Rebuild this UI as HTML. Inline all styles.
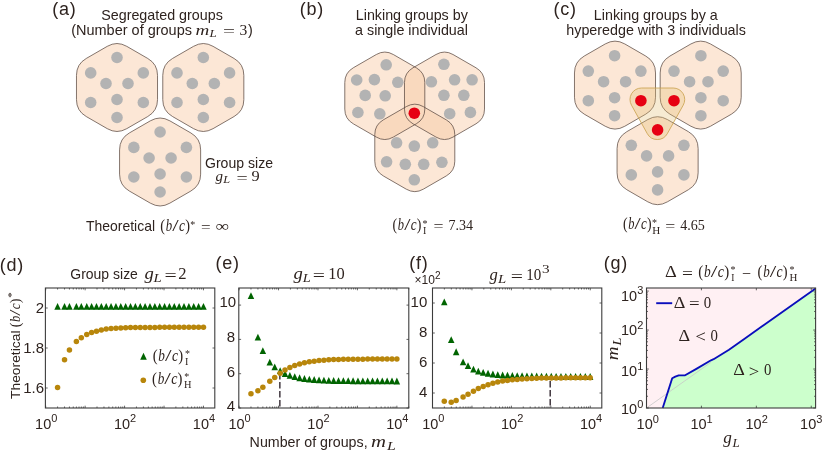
<!DOCTYPE html>
<html><head><meta charset="utf-8"><title>Figure</title>
<style>
html,body{margin:0;padding:0;background:#fff;}
svg{display:block;will-change:transform;transform:translateZ(0);}
text{white-space:pre;}
</style></head>
<body>
<svg width="822" height="462" viewBox="0 0 822 462">
<rect width="822" height="462" fill="#ffffff"/>
<text x="52.3" y="14.6" text-anchor="start" fill="#2e231f" style="font-family:'Liberation Sans',sans-serif;font-size:18px;letter-spacing:0.75px;">(a)</text>
<text x="299.8" y="14.6" text-anchor="start" fill="#2e231f" style="font-family:'Liberation Sans',sans-serif;font-size:18px;letter-spacing:0.75px;">(b)</text>
<text x="553.5" y="14.6" text-anchor="start" fill="#2e231f" style="font-family:'Liberation Sans',sans-serif;font-size:18px;letter-spacing:0.75px;">(c)</text>
<text x="-0.2" y="271" text-anchor="start" fill="#2e231f" style="font-family:'Liberation Sans',sans-serif;font-size:18px;letter-spacing:0.75px;">(d)</text>
<text x="215.5" y="268.9" text-anchor="start" fill="#2e231f" style="font-family:'Liberation Sans',sans-serif;font-size:18px;letter-spacing:0.75px;">(e)</text>
<text x="409.3" y="269.3" text-anchor="start" fill="#2e231f" style="font-family:'Liberation Sans',sans-serif;font-size:18px;letter-spacing:0.75px;">(f)</text>
<text x="603.8" y="269.2" text-anchor="start" fill="#2e231f" style="font-family:'Liberation Sans',sans-serif;font-size:18px;letter-spacing:0.75px;">(g)</text>
<path d="M107.25,46.33 A19.50,19.50 0 0 1 126.75,46.33 L147.78,58.47 A19.50,19.50 0 0 1 157.53,75.36 L157.53,99.64 A19.50,19.50 0 0 1 147.78,116.53 L126.75,128.67 A19.50,19.50 0 0 1 107.25,128.67 L86.22,116.53 A19.50,19.50 0 0 1 76.47,99.64 L76.47,75.36 A19.50,19.50 0 0 1 86.22,58.47 Z" fill="#fce7d6" stroke="#5b4a42" stroke-width="0.75"/>
<circle cx="117.0" cy="57.5" r="5.8" fill="#b3b3b3"/>
<circle cx="90.7" cy="72.9" r="5.8" fill="#b3b3b3"/>
<circle cx="143.3" cy="72.9" r="5.8" fill="#b3b3b3"/>
<circle cx="106.0" cy="83.5" r="5.8" fill="#b3b3b3"/>
<circle cx="128.0" cy="83.5" r="5.8" fill="#b3b3b3"/>
<circle cx="117.0" cy="99.5" r="5.8" fill="#b3b3b3"/>
<circle cx="90.7" cy="102.5" r="5.8" fill="#b3b3b3"/>
<circle cx="143.3" cy="102.5" r="5.8" fill="#b3b3b3"/>
<circle cx="117.0" cy="117.5" r="5.8" fill="#b3b3b3"/>
<path d="M193.55,46.33 A19.50,19.50 0 0 1 213.05,46.33 L234.08,58.47 A19.50,19.50 0 0 1 243.83,75.36 L243.83,99.64 A19.50,19.50 0 0 1 234.08,116.53 L213.05,128.67 A19.50,19.50 0 0 1 193.55,128.67 L172.52,116.53 A19.50,19.50 0 0 1 162.77,99.64 L162.77,75.36 A19.50,19.50 0 0 1 172.52,58.47 Z" fill="#fce7d6" stroke="#5b4a42" stroke-width="0.75"/>
<circle cx="203.3" cy="57.5" r="5.8" fill="#b3b3b3"/>
<circle cx="177.0" cy="72.9" r="5.8" fill="#b3b3b3"/>
<circle cx="229.6" cy="72.9" r="5.8" fill="#b3b3b3"/>
<circle cx="192.3" cy="83.5" r="5.8" fill="#b3b3b3"/>
<circle cx="214.3" cy="83.5" r="5.8" fill="#b3b3b3"/>
<circle cx="203.3" cy="99.5" r="5.8" fill="#b3b3b3"/>
<circle cx="177.0" cy="102.5" r="5.8" fill="#b3b3b3"/>
<circle cx="229.6" cy="102.5" r="5.8" fill="#b3b3b3"/>
<circle cx="203.3" cy="117.5" r="5.8" fill="#b3b3b3"/>
<path d="M150.35,120.83 A19.50,19.50 0 0 1 169.85,120.83 L190.88,132.97 A19.50,19.50 0 0 1 200.63,149.86 L200.63,174.14 A19.50,19.50 0 0 1 190.88,191.03 L169.85,203.17 A19.50,19.50 0 0 1 150.35,203.17 L129.32,191.03 A19.50,19.50 0 0 1 119.57,174.14 L119.57,149.86 A19.50,19.50 0 0 1 129.32,132.97 Z" fill="#fce7d6" stroke="#5b4a42" stroke-width="0.75"/>
<circle cx="160.1" cy="132.0" r="5.8" fill="#b3b3b3"/>
<circle cx="133.8" cy="147.4" r="5.8" fill="#b3b3b3"/>
<circle cx="186.4" cy="147.4" r="5.8" fill="#b3b3b3"/>
<circle cx="149.1" cy="158.0" r="5.8" fill="#b3b3b3"/>
<circle cx="171.1" cy="158.0" r="5.8" fill="#b3b3b3"/>
<circle cx="160.1" cy="174.0" r="5.8" fill="#b3b3b3"/>
<circle cx="133.8" cy="177.0" r="5.8" fill="#b3b3b3"/>
<circle cx="186.4" cy="177.0" r="5.8" fill="#b3b3b3"/>
<circle cx="160.1" cy="192.0" r="5.8" fill="#b3b3b3"/>
<text x="162.0" y="20.4" text-anchor="middle" fill="#2e231f" style="font-family:'Liberation Sans',sans-serif;font-size:14.3px;">Segregated groups</text>
<text x="71.2" y="34.5" text-anchor="start" fill="#2e231f" style="font-family:'Liberation Sans',sans-serif;font-size:14.3px;" textLength="120.8" lengthAdjust="spacingAndGlyphs">(Number of groups</text>
<text x="195.4" y="34.5" text-anchor="start" fill="#2e231f" style="font-family:'Liberation Serif',serif;font-size:15.5px;font-style:italic;" textLength="13.8" lengthAdjust="spacingAndGlyphs">m</text>
<text x="209.5" y="37.3" text-anchor="start" fill="#2e231f" style="font-family:'Liberation Serif',serif;font-size:10.5px;font-style:italic;" textLength="7.2" lengthAdjust="spacingAndGlyphs">L</text>
<text x="222.9" y="36.0" text-anchor="start" fill="#2e231f" style="font-family:'Liberation Serif',serif;font-size:15px;" textLength="12" lengthAdjust="spacingAndGlyphs">=</text>
<text x="239.4" y="34.6" text-anchor="start" fill="#2e231f" style="font-family:'Liberation Serif',serif;font-size:14.5px;" textLength="7.8" lengthAdjust="spacingAndGlyphs">3</text>
<text x="248.0" y="34.5" text-anchor="start" fill="#2e231f" style="font-family:'Liberation Sans',sans-serif;font-size:14.3px;">)</text>
<text x="205" y="167.9" text-anchor="start" fill="#2e231f" style="font-family:'Liberation Sans',sans-serif;font-size:14.3px;" textLength="68" lengthAdjust="spacingAndGlyphs">Group size</text>
<text x="215.6" y="180.6" text-anchor="start" fill="#2e231f" style="font-family:'Liberation Serif',serif;font-size:15px;font-style:italic;" textLength="7.5" lengthAdjust="spacingAndGlyphs">g</text>
<text x="223.3" y="183.4" text-anchor="start" fill="#2e231f" style="font-family:'Liberation Serif',serif;font-size:10.5px;font-style:italic;" textLength="6.8" lengthAdjust="spacingAndGlyphs">L</text>
<text x="236.4" y="182.7" text-anchor="start" fill="#2e231f" style="font-family:'Liberation Serif',serif;font-size:15px;" textLength="11.2" lengthAdjust="spacingAndGlyphs">=</text>
<text x="251.6" y="181.3" text-anchor="start" fill="#2e231f" style="font-family:'Liberation Serif',serif;font-size:15.5px;" textLength="8.2" lengthAdjust="spacingAndGlyphs">9</text>
<text x="86" y="230.7" text-anchor="start" fill="#2e231f" style="font-family:'Liberation Sans',sans-serif;font-size:14.3px;" textLength="69" lengthAdjust="spacingAndGlyphs">Theoretical</text>
<text x="160.3" y="230.7" text-anchor="start" fill="#2e231f" style="font-family:'Liberation Serif',serif;font-size:16px;" textLength="4.7608391608391605" lengthAdjust="spacingAndGlyphs">(</text>
<text x="165.7853146853147" y="230.7" text-anchor="start" fill="#2e231f" style="font-family:'Liberation Serif',serif;font-size:16px;font-style:italic;" textLength="6.416783216783217" lengthAdjust="spacingAndGlyphs">b</text>
<text x="172.3055944055944" y="230.7" text-anchor="start" fill="#2e231f" style="font-family:'Liberation Serif',serif;font-size:16px;" textLength="6.416783216783217" lengthAdjust="spacingAndGlyphs">/</text>
<text x="178.92937062937065" y="230.7" text-anchor="start" fill="#2e231f" style="font-family:'Liberation Serif',serif;font-size:16px;font-style:italic;" textLength="6.002797202797203" lengthAdjust="spacingAndGlyphs">c</text>
<text x="185.13916083916087" y="230.7" text-anchor="start" fill="#2e231f" style="font-family:'Liberation Serif',serif;font-size:16px;" textLength="4.7608391608391605" lengthAdjust="spacingAndGlyphs">)</text>
<text x="190.2" y="227.9" text-anchor="start" fill="#2e231f" style="font-family:'Liberation Serif',serif;font-size:10px;">*</text>
<text x="201" y="232.2" text-anchor="start" fill="#2e231f" style="font-family:'Liberation Serif',serif;font-size:15px;" textLength="9.6" lengthAdjust="spacingAndGlyphs">=</text>
<text x="215.7" y="230.7" text-anchor="start" fill="#2e231f" style="font-family:'Liberation Serif',serif;font-size:15px;" textLength="13.4" lengthAdjust="spacingAndGlyphs">∞</text>
<path d="M376.30,54.51 A17.00,17.00 0 0 1 393.30,54.51 L416.31,67.79 A17.00,17.00 0 0 1 424.81,82.51 L424.81,109.09 A17.00,17.00 0 0 1 416.31,123.81 L393.30,137.09 A17.00,17.00 0 0 1 376.30,137.09 L353.29,123.81 A17.00,17.00 0 0 1 344.79,109.09 L344.79,82.51 A17.00,17.00 0 0 1 353.29,67.79 Z" fill="#fce7d6" stroke="none" stroke-width="0.75"/>
<path d="M436.00,54.51 A17.00,17.00 0 0 1 453.00,54.51 L476.01,67.79 A17.00,17.00 0 0 1 484.51,82.51 L484.51,109.09 A17.00,17.00 0 0 1 476.01,123.81 L453.00,137.09 A17.00,17.00 0 0 1 436.00,137.09 L412.99,123.81 A17.00,17.00 0 0 1 404.49,109.09 L404.49,82.51 A17.00,17.00 0 0 1 412.99,67.79 Z" fill="#fce7d6" stroke="none" stroke-width="0.75"/>
<path d="M406.30,106.61 A17.00,17.00 0 0 1 423.30,106.61 L446.31,119.89 A17.00,17.00 0 0 1 454.81,134.61 L454.81,161.19 A17.00,17.00 0 0 1 446.31,175.91 L423.30,189.19 A17.00,17.00 0 0 1 406.30,189.19 L383.29,175.91 A17.00,17.00 0 0 1 374.79,161.19 L374.79,134.61 A17.00,17.00 0 0 1 383.29,119.89 Z" fill="#fce7d6" stroke="none" stroke-width="0.75"/>
<defs><clipPath id="hb0"><path d="M376.30,54.51 A17.00,17.00 0 0 1 393.30,54.51 L416.31,67.79 A17.00,17.00 0 0 1 424.81,82.51 L424.81,109.09 A17.00,17.00 0 0 1 416.31,123.81 L393.30,137.09 A17.00,17.00 0 0 1 376.30,137.09 L353.29,123.81 A17.00,17.00 0 0 1 344.79,109.09 L344.79,82.51 A17.00,17.00 0 0 1 353.29,67.79 Z"/></clipPath><clipPath id="hb1"><path d="M436.00,54.51 A17.00,17.00 0 0 1 453.00,54.51 L476.01,67.79 A17.00,17.00 0 0 1 484.51,82.51 L484.51,109.09 A17.00,17.00 0 0 1 476.01,123.81 L453.00,137.09 A17.00,17.00 0 0 1 436.00,137.09 L412.99,123.81 A17.00,17.00 0 0 1 404.49,109.09 L404.49,82.51 A17.00,17.00 0 0 1 412.99,67.79 Z"/></clipPath><clipPath id="hb2"><path d="M406.30,106.61 A17.00,17.00 0 0 1 423.30,106.61 L446.31,119.89 A17.00,17.00 0 0 1 454.81,134.61 L454.81,161.19 A17.00,17.00 0 0 1 446.31,175.91 L423.30,189.19 A17.00,17.00 0 0 1 406.30,189.19 L383.29,175.91 A17.00,17.00 0 0 1 374.79,161.19 L374.79,134.61 A17.00,17.00 0 0 1 383.29,119.89 Z"/></clipPath></defs>
<path d="M436.00,54.51 A17.00,17.00 0 0 1 453.00,54.51 L476.01,67.79 A17.00,17.00 0 0 1 484.51,82.51 L484.51,109.09 A17.00,17.00 0 0 1 476.01,123.81 L453.00,137.09 A17.00,17.00 0 0 1 436.00,137.09 L412.99,123.81 A17.00,17.00 0 0 1 404.49,109.09 L404.49,82.51 A17.00,17.00 0 0 1 412.99,67.79 Z" fill="#f9d9be" clip-path="url(#hb0)"/>
<path d="M406.30,106.61 A17.00,17.00 0 0 1 423.30,106.61 L446.31,119.89 A17.00,17.00 0 0 1 454.81,134.61 L454.81,161.19 A17.00,17.00 0 0 1 446.31,175.91 L423.30,189.19 A17.00,17.00 0 0 1 406.30,189.19 L383.29,175.91 A17.00,17.00 0 0 1 374.79,161.19 L374.79,134.61 A17.00,17.00 0 0 1 383.29,119.89 Z" fill="#f9d9be" clip-path="url(#hb0)"/>
<path d="M406.30,106.61 A17.00,17.00 0 0 1 423.30,106.61 L446.31,119.89 A17.00,17.00 0 0 1 454.81,134.61 L454.81,161.19 A17.00,17.00 0 0 1 446.31,175.91 L423.30,189.19 A17.00,17.00 0 0 1 406.30,189.19 L383.29,175.91 A17.00,17.00 0 0 1 374.79,161.19 L374.79,134.61 A17.00,17.00 0 0 1 383.29,119.89 Z" fill="#f9d9be" clip-path="url(#hb1)"/>
<path d="M376.30,54.51 A17.00,17.00 0 0 1 393.30,54.51 L416.31,67.79 A17.00,17.00 0 0 1 424.81,82.51 L424.81,109.09 A17.00,17.00 0 0 1 416.31,123.81 L393.30,137.09 A17.00,17.00 0 0 1 376.30,137.09 L353.29,123.81 A17.00,17.00 0 0 1 344.79,109.09 L344.79,82.51 A17.00,17.00 0 0 1 353.29,67.79 Z" fill="none" stroke="#5b4a42" stroke-width="0.75"/>
<path d="M436.00,54.51 A17.00,17.00 0 0 1 453.00,54.51 L476.01,67.79 A17.00,17.00 0 0 1 484.51,82.51 L484.51,109.09 A17.00,17.00 0 0 1 476.01,123.81 L453.00,137.09 A17.00,17.00 0 0 1 436.00,137.09 L412.99,123.81 A17.00,17.00 0 0 1 404.49,109.09 L404.49,82.51 A17.00,17.00 0 0 1 412.99,67.79 Z" fill="none" stroke="#5b4a42" stroke-width="0.75"/>
<path d="M406.30,106.61 A17.00,17.00 0 0 1 423.30,106.61 L446.31,119.89 A17.00,17.00 0 0 1 454.81,134.61 L454.81,161.19 A17.00,17.00 0 0 1 446.31,175.91 L423.30,189.19 A17.00,17.00 0 0 1 406.30,189.19 L383.29,175.91 A17.00,17.00 0 0 1 374.79,161.19 L374.79,134.61 A17.00,17.00 0 0 1 383.29,119.89 Z" fill="none" stroke="#5b4a42" stroke-width="0.75"/>
<circle cx="386.2" cy="64.8" r="5.8" fill="#b3b3b3"/>
<circle cx="356.7" cy="80.0" r="5.8" fill="#b3b3b3"/>
<circle cx="374.4" cy="79.6" r="5.8" fill="#b3b3b3"/>
<circle cx="397.8" cy="82.3" r="5.8" fill="#b3b3b3"/>
<circle cx="365.2" cy="95.4" r="5.8" fill="#b3b3b3"/>
<circle cx="385.2" cy="95.8" r="5.8" fill="#b3b3b3"/>
<circle cx="357.9" cy="112.5" r="5.8" fill="#b3b3b3"/>
<circle cx="379.8" cy="113.8" r="5.8" fill="#b3b3b3"/>
<circle cx="443.9" cy="64.3" r="5.8" fill="#b3b3b3"/>
<circle cx="431.4" cy="81.8" r="5.8" fill="#b3b3b3"/>
<circle cx="454.6" cy="79.8" r="5.8" fill="#b3b3b3"/>
<circle cx="472.1" cy="79.8" r="5.8" fill="#b3b3b3"/>
<circle cx="443.9" cy="95.3" r="5.8" fill="#b3b3b3"/>
<circle cx="463.8" cy="95.3" r="5.8" fill="#b3b3b3"/>
<circle cx="449.7" cy="113.7" r="5.8" fill="#b3b3b3"/>
<circle cx="470.4" cy="112.4" r="5.8" fill="#b3b3b3"/>
<circle cx="396.6" cy="142.8" r="5.8" fill="#b3b3b3"/>
<circle cx="414.3" cy="146.1" r="5.8" fill="#b3b3b3"/>
<circle cx="432.7" cy="142.8" r="5.8" fill="#b3b3b3"/>
<circle cx="386.6" cy="161.8" r="5.8" fill="#b3b3b3"/>
<circle cx="405.3" cy="164.3" r="5.8" fill="#b3b3b3"/>
<circle cx="423.7" cy="164.3" r="5.8" fill="#b3b3b3"/>
<circle cx="441.9" cy="162.3" r="5.8" fill="#b3b3b3"/>
<circle cx="414.3" cy="179.8" r="5.8" fill="#b3b3b3"/>
<circle cx="414.3" cy="113.2" r="5.8" fill="#e60012"/>
<text x="411.8" y="20.4" text-anchor="middle" fill="#2e231f" style="font-family:'Liberation Sans',sans-serif;font-size:14.3px;">Linking groups by</text>
<text x="411.5" y="34.9" text-anchor="middle" fill="#2e231f" style="font-family:'Liberation Sans',sans-serif;font-size:14.3px;">a single individual</text>
<text x="392.5" y="229.9" text-anchor="start" fill="#2e231f" style="font-family:'Liberation Serif',serif;font-size:16px;" textLength="4.6321678321678315" lengthAdjust="spacingAndGlyphs">(</text>
<text x="397.8370629370629" y="229.9" text-anchor="start" fill="#2e231f" style="font-family:'Liberation Serif',serif;font-size:16px;font-style:italic;" textLength="6.243356643356643" lengthAdjust="spacingAndGlyphs">b</text>
<text x="404.1811188811189" y="229.9" text-anchor="start" fill="#2e231f" style="font-family:'Liberation Serif',serif;font-size:16px;" textLength="6.243356643356643" lengthAdjust="spacingAndGlyphs">/</text>
<text x="410.62587412587413" y="229.9" text-anchor="start" fill="#2e231f" style="font-family:'Liberation Serif',serif;font-size:16px;font-style:italic;" textLength="5.840559440559439" lengthAdjust="spacingAndGlyphs">c</text>
<text x="416.66783216783216" y="229.9" text-anchor="start" fill="#2e231f" style="font-family:'Liberation Serif',serif;font-size:16px;" textLength="4.6321678321678315" lengthAdjust="spacingAndGlyphs">)</text>
<text x="422.6" y="226.7" text-anchor="start" fill="#2e231f" style="font-family:'Liberation Serif',serif;font-size:10px;">*</text>
<text x="423.0" y="234.3" text-anchor="start" fill="#2e231f" style="font-family:'Liberation Serif',serif;font-size:10px;">I</text>
<text x="433.6" y="231.4" text-anchor="start" fill="#2e231f" style="font-family:'Liberation Serif',serif;font-size:15px;" textLength="10" lengthAdjust="spacingAndGlyphs">=</text>
<text x="448.5" y="230.0" text-anchor="start" fill="#2e231f" style="font-family:'Liberation Serif',serif;font-size:15px;" textLength="24.6" lengthAdjust="spacingAndGlyphs">7.34</text>
<path d="M605.25,43.93 A19.50,19.50 0 0 1 624.75,43.93 L645.78,56.07 A19.50,19.50 0 0 1 655.53,72.96 L655.53,97.24 A19.50,19.50 0 0 1 645.78,114.13 L624.75,126.27 A19.50,19.50 0 0 1 605.25,126.27 L584.22,114.13 A19.50,19.50 0 0 1 574.47,97.24 L574.47,72.96 A19.50,19.50 0 0 1 584.22,56.07 Z" fill="#fce7d6" stroke="#5b4a42" stroke-width="0.75"/>
<path d="M690.95,43.93 A19.50,19.50 0 0 1 710.45,43.93 L731.48,56.07 A19.50,19.50 0 0 1 741.23,72.96 L741.23,97.24 A19.50,19.50 0 0 1 731.48,114.13 L710.45,126.27 A19.50,19.50 0 0 1 690.95,126.27 L669.92,114.13 A19.50,19.50 0 0 1 660.17,97.24 L660.17,72.96 A19.50,19.50 0 0 1 669.92,56.07 Z" fill="#fce7d6" stroke="#5b4a42" stroke-width="0.75"/>
<path d="M647.85,119.53 A19.50,19.50 0 0 1 667.35,119.53 L688.38,131.67 A19.50,19.50 0 0 1 698.13,148.56 L698.13,172.84 A19.50,19.50 0 0 1 688.38,189.73 L667.35,201.87 A19.50,19.50 0 0 1 647.85,201.87 L626.82,189.73 A19.50,19.50 0 0 1 617.07,172.84 L617.07,148.56 A19.50,19.50 0 0 1 626.82,131.67 Z" fill="#fce7d6" stroke="#5b4a42" stroke-width="0.75"/>
<path d="M641.5,88 L673.2,88 A11.5,11.5 0 0 1 683.2,105.2 L667.3,133.7 A11.5,11.5 0 0 1 647.3,133.7 L631.5,105.2 A11.5,11.5 0 0 1 641.5,88 Z" fill="rgba(225,190,110,0.3)" stroke="#c8a04a" stroke-width="0.8"/>
<circle cx="614.6" cy="55.7" r="5.8" fill="#b3b3b3"/>
<circle cx="588.3" cy="71.1" r="5.8" fill="#b3b3b3"/>
<circle cx="640.9" cy="71.1" r="5.8" fill="#b3b3b3"/>
<circle cx="603.6" cy="81.7" r="5.8" fill="#b3b3b3"/>
<circle cx="625.6" cy="81.7" r="5.8" fill="#b3b3b3"/>
<circle cx="614.6" cy="97.7" r="5.8" fill="#b3b3b3"/>
<circle cx="588.3" cy="100.7" r="5.8" fill="#b3b3b3"/>
<circle cx="640.9" cy="100.7" r="5.8" fill="#e60012"/>
<circle cx="614.6" cy="115.7" r="5.8" fill="#b3b3b3"/>
<circle cx="700.9" cy="55.7" r="5.8" fill="#b3b3b3"/>
<circle cx="674.0" cy="71.1" r="5.8" fill="#b3b3b3"/>
<circle cx="723.2" cy="71.1" r="5.8" fill="#b3b3b3"/>
<circle cx="689.6" cy="81.7" r="5.8" fill="#b3b3b3"/>
<circle cx="708.0" cy="81.7" r="5.8" fill="#b3b3b3"/>
<circle cx="700.9" cy="97.7" r="5.8" fill="#b3b3b3"/>
<circle cx="674.0" cy="100.7" r="5.8" fill="#e60012"/>
<circle cx="723.2" cy="100.7" r="5.8" fill="#b3b3b3"/>
<circle cx="700.9" cy="115.7" r="5.8" fill="#b3b3b3"/>
<circle cx="657.6" cy="129.9" r="5.8" fill="#e60012"/>
<circle cx="631.3" cy="145.3" r="5.8" fill="#b3b3b3"/>
<circle cx="683.9" cy="145.3" r="5.8" fill="#b3b3b3"/>
<circle cx="646.6" cy="155.9" r="5.8" fill="#b3b3b3"/>
<circle cx="668.6" cy="155.9" r="5.8" fill="#b3b3b3"/>
<circle cx="657.6" cy="171.9" r="5.8" fill="#b3b3b3"/>
<circle cx="631.3" cy="174.9" r="5.8" fill="#b3b3b3"/>
<circle cx="683.9" cy="174.9" r="5.8" fill="#b3b3b3"/>
<circle cx="657.6" cy="189.9" r="5.8" fill="#b3b3b3"/>
<text x="655.8" y="20.4" text-anchor="middle" fill="#2e231f" style="font-family:'Liberation Sans',sans-serif;font-size:14.3px;">Linking groups by a</text>
<text x="656.1" y="34.9" text-anchor="middle" fill="#2e231f" style="font-family:'Liberation Sans',sans-serif;font-size:14.3px;">hyperedge with 3 individuals</text>
<text x="622.9" y="229.4" text-anchor="start" fill="#2e231f" style="font-family:'Liberation Serif',serif;font-size:16px;" textLength="4.6" lengthAdjust="spacingAndGlyphs">(</text>
<text x="628.1999999999999" y="229.4" text-anchor="start" fill="#2e231f" style="font-family:'Liberation Serif',serif;font-size:16px;font-style:italic;" textLength="6.2" lengthAdjust="spacingAndGlyphs">b</text>
<text x="634.5" y="229.4" text-anchor="start" fill="#2e231f" style="font-family:'Liberation Serif',serif;font-size:16px;" textLength="6.2" lengthAdjust="spacingAndGlyphs">/</text>
<text x="640.9" y="229.4" text-anchor="start" fill="#2e231f" style="font-family:'Liberation Serif',serif;font-size:16px;font-style:italic;" textLength="5.8" lengthAdjust="spacingAndGlyphs">c</text>
<text x="646.9" y="229.4" text-anchor="start" fill="#2e231f" style="font-family:'Liberation Serif',serif;font-size:16px;" textLength="4.6" lengthAdjust="spacingAndGlyphs">)</text>
<text x="652.1" y="226.2" text-anchor="start" fill="#2e231f" style="font-family:'Liberation Serif',serif;font-size:10px;">*</text>
<text x="652.3" y="233.9" text-anchor="start" fill="#2e231f" style="font-family:'Liberation Serif',serif;font-size:10px;" textLength="8" lengthAdjust="spacingAndGlyphs">H</text>
<text x="665.3" y="230.9" text-anchor="start" fill="#2e231f" style="font-family:'Liberation Serif',serif;font-size:15px;" textLength="10" lengthAdjust="spacingAndGlyphs">=</text>
<text x="680.2" y="229.5" text-anchor="start" fill="#2e231f" style="font-family:'Liberation Serif',serif;font-size:15px;" textLength="24.6" lengthAdjust="spacingAndGlyphs">4.65</text>
<rect x="45.4" y="288" width="169.4" height="120" fill="none" stroke="#3c3c3c" stroke-width="1.1"/>
<path d="M45.70,408 v-2.3 M45.70,288 v2.3" stroke="#3c3c3c" stroke-width="0.8"/>
<path d="M57.57,408 v-1.5 M57.57,288 v1.5" stroke="#3c3c3c" stroke-width="0.8"/>
<path d="M64.52,408 v-1.5 M64.52,288 v1.5" stroke="#3c3c3c" stroke-width="0.8"/>
<path d="M69.45,408 v-1.5 M69.45,288 v1.5" stroke="#3c3c3c" stroke-width="0.8"/>
<path d="M73.27,408 v-1.5 M73.27,288 v1.5" stroke="#3c3c3c" stroke-width="0.8"/>
<path d="M76.39,408 v-1.5 M76.39,288 v1.5" stroke="#3c3c3c" stroke-width="0.8"/>
<path d="M79.03,408 v-1.5 M79.03,288 v1.5" stroke="#3c3c3c" stroke-width="0.8"/>
<path d="M81.32,408 v-1.5 M81.32,288 v1.5" stroke="#3c3c3c" stroke-width="0.8"/>
<path d="M83.34,408 v-1.5 M83.34,288 v1.5" stroke="#3c3c3c" stroke-width="0.8"/>
<path d="M85.14,408 v-2.3 M85.14,288 v2.3" stroke="#3c3c3c" stroke-width="0.8"/>
<path d="M97.01,408 v-1.5 M97.01,288 v1.5" stroke="#3c3c3c" stroke-width="0.8"/>
<path d="M103.96,408 v-1.5 M103.96,288 v1.5" stroke="#3c3c3c" stroke-width="0.8"/>
<path d="M108.89,408 v-1.5 M108.89,288 v1.5" stroke="#3c3c3c" stroke-width="0.8"/>
<path d="M112.71,408 v-1.5 M112.71,288 v1.5" stroke="#3c3c3c" stroke-width="0.8"/>
<path d="M115.83,408 v-1.5 M115.83,288 v1.5" stroke="#3c3c3c" stroke-width="0.8"/>
<path d="M118.47,408 v-1.5 M118.47,288 v1.5" stroke="#3c3c3c" stroke-width="0.8"/>
<path d="M120.76,408 v-1.5 M120.76,288 v1.5" stroke="#3c3c3c" stroke-width="0.8"/>
<path d="M122.78,408 v-1.5 M122.78,288 v1.5" stroke="#3c3c3c" stroke-width="0.8"/>
<path d="M124.58,408 v-2.3 M124.58,288 v2.3" stroke="#3c3c3c" stroke-width="0.8"/>
<path d="M136.45,408 v-1.5 M136.45,288 v1.5" stroke="#3c3c3c" stroke-width="0.8"/>
<path d="M143.40,408 v-1.5 M143.40,288 v1.5" stroke="#3c3c3c" stroke-width="0.8"/>
<path d="M148.33,408 v-1.5 M148.33,288 v1.5" stroke="#3c3c3c" stroke-width="0.8"/>
<path d="M152.15,408 v-1.5 M152.15,288 v1.5" stroke="#3c3c3c" stroke-width="0.8"/>
<path d="M155.27,408 v-1.5 M155.27,288 v1.5" stroke="#3c3c3c" stroke-width="0.8"/>
<path d="M157.91,408 v-1.5 M157.91,288 v1.5" stroke="#3c3c3c" stroke-width="0.8"/>
<path d="M160.20,408 v-1.5 M160.20,288 v1.5" stroke="#3c3c3c" stroke-width="0.8"/>
<path d="M162.22,408 v-1.5 M162.22,288 v1.5" stroke="#3c3c3c" stroke-width="0.8"/>
<path d="M164.02,408 v-2.3 M164.02,288 v2.3" stroke="#3c3c3c" stroke-width="0.8"/>
<path d="M175.89,408 v-1.5 M175.89,288 v1.5" stroke="#3c3c3c" stroke-width="0.8"/>
<path d="M182.84,408 v-1.5 M182.84,288 v1.5" stroke="#3c3c3c" stroke-width="0.8"/>
<path d="M187.77,408 v-1.5 M187.77,288 v1.5" stroke="#3c3c3c" stroke-width="0.8"/>
<path d="M191.59,408 v-1.5 M191.59,288 v1.5" stroke="#3c3c3c" stroke-width="0.8"/>
<path d="M194.71,408 v-1.5 M194.71,288 v1.5" stroke="#3c3c3c" stroke-width="0.8"/>
<path d="M197.35,408 v-1.5 M197.35,288 v1.5" stroke="#3c3c3c" stroke-width="0.8"/>
<path d="M199.64,408 v-1.5 M199.64,288 v1.5" stroke="#3c3c3c" stroke-width="0.8"/>
<path d="M201.66,408 v-1.5 M201.66,288 v1.5" stroke="#3c3c3c" stroke-width="0.8"/>
<path d="M203.46,408 v-2.3 M203.46,288 v2.3" stroke="#3c3c3c" stroke-width="0.8"/>
<path d="M45.4,308 h2.3 M214.8,308 h-2.3" stroke="#3c3c3c" stroke-width="0.8"/>
<text x="44.0" y="313.4" text-anchor="end" fill="#2e231f" style="font-family:'Liberation Sans',sans-serif;font-size:15px;">2</text>
<path d="M45.4,348 h2.3 M214.8,348 h-2.3" stroke="#3c3c3c" stroke-width="0.8"/>
<text x="44.0" y="353.4" text-anchor="end" fill="#2e231f" style="font-family:'Liberation Sans',sans-serif;font-size:15px;">1.8</text>
<path d="M45.4,388 h2.3 M214.8,388 h-2.3" stroke="#3c3c3c" stroke-width="0.8"/>
<text x="44.0" y="393.4" text-anchor="end" fill="#2e231f" style="font-family:'Liberation Sans',sans-serif;font-size:15px;">1.6</text>
<text x="46.199999999999996" y="428.9" text-anchor="middle" fill="#2e231f" style="font-family:'Liberation Sans',sans-serif;font-size:14.5px;">10<tspan dy="-6.5" style="font-size:11px">0</tspan></text>
<text x="125.08" y="428.9" text-anchor="middle" fill="#2e231f" style="font-family:'Liberation Sans',sans-serif;font-size:14.5px;">10<tspan dy="-6.5" style="font-size:11px">2</tspan></text>
<text x="203.96" y="428.9" text-anchor="middle" fill="#2e231f" style="font-family:'Liberation Sans',sans-serif;font-size:14.5px;">10<tspan dy="-6.5" style="font-size:11px">4</tspan></text>
<path d="M54.32,309.79 L60.82,309.79 L57.57,302.96 Z" fill="#006400"/>
<path d="M61.27,309.79 L67.77,309.79 L64.52,302.96 Z" fill="#006400"/>
<path d="M66.20,309.79 L72.70,309.79 L69.45,302.96 Z" fill="#006400"/>
<path d="M73.14,309.79 L79.64,309.79 L76.39,302.96 Z" fill="#006400"/>
<path d="M78.07,309.79 L84.57,309.79 L81.32,302.96 Z" fill="#006400"/>
<path d="M83.50,309.79 L90.00,309.79 L86.75,302.96 Z" fill="#006400"/>
<path d="M88.36,309.79 L94.86,309.79 L91.61,302.96 Z" fill="#006400"/>
<path d="M93.23,309.79 L99.73,309.79 L96.48,302.96 Z" fill="#006400"/>
<path d="M98.09,309.79 L104.59,309.79 L101.34,302.96 Z" fill="#006400"/>
<path d="M102.95,309.79 L109.45,309.79 L106.20,302.96 Z" fill="#006400"/>
<path d="M107.81,309.79 L114.31,309.79 L111.06,302.96 Z" fill="#006400"/>
<path d="M112.68,309.79 L119.18,309.79 L115.93,302.96 Z" fill="#006400"/>
<path d="M117.54,309.79 L124.04,309.79 L120.79,302.96 Z" fill="#006400"/>
<path d="M122.40,309.79 L128.90,309.79 L125.65,302.96 Z" fill="#006400"/>
<path d="M127.27,309.79 L133.77,309.79 L130.52,302.96 Z" fill="#006400"/>
<path d="M132.13,309.79 L138.63,309.79 L135.38,302.96 Z" fill="#006400"/>
<path d="M136.99,309.79 L143.49,309.79 L140.24,302.96 Z" fill="#006400"/>
<path d="M141.86,309.79 L148.36,309.79 L145.11,302.96 Z" fill="#006400"/>
<path d="M146.72,309.79 L153.22,309.79 L149.97,302.96 Z" fill="#006400"/>
<path d="M151.58,309.79 L158.08,309.79 L154.83,302.96 Z" fill="#006400"/>
<path d="M156.44,309.79 L162.94,309.79 L159.69,302.96 Z" fill="#006400"/>
<path d="M161.31,309.79 L167.81,309.79 L164.56,302.96 Z" fill="#006400"/>
<path d="M166.17,309.79 L172.67,309.79 L169.42,302.96 Z" fill="#006400"/>
<path d="M171.03,309.79 L177.53,309.79 L174.28,302.96 Z" fill="#006400"/>
<path d="M175.90,309.79 L182.40,309.79 L179.15,302.96 Z" fill="#006400"/>
<path d="M180.76,309.79 L187.26,309.79 L184.01,302.96 Z" fill="#006400"/>
<path d="M185.62,309.79 L192.12,309.79 L188.87,302.96 Z" fill="#006400"/>
<path d="M190.48,309.79 L196.98,309.79 L193.73,302.96 Z" fill="#006400"/>
<path d="M195.35,309.79 L201.85,309.79 L198.60,302.96 Z" fill="#006400"/>
<path d="M200.21,309.79 L206.71,309.79 L203.46,302.96 Z" fill="#006400"/>
<circle cx="57.57" cy="387.50" r="2.75" fill="#b8860b"/>
<circle cx="64.52" cy="359.77" r="2.75" fill="#b8860b"/>
<circle cx="69.45" cy="350.01" r="2.75" fill="#b8860b"/>
<circle cx="76.39" cy="341.51" r="2.75" fill="#b8860b"/>
<circle cx="81.32" cy="337.64" r="2.75" fill="#b8860b"/>
<circle cx="86.75" cy="334.58" r="2.75" fill="#b8860b"/>
<circle cx="91.61" cy="332.51" r="2.75" fill="#b8860b"/>
<circle cx="96.48" cy="331.14" r="2.75" fill="#b8860b"/>
<circle cx="101.34" cy="329.96" r="2.75" fill="#b8860b"/>
<circle cx="106.20" cy="329.07" r="2.75" fill="#b8860b"/>
<circle cx="111.06" cy="328.55" r="2.75" fill="#b8860b"/>
<circle cx="115.93" cy="328.23" r="2.75" fill="#b8860b"/>
<circle cx="120.79" cy="327.91" r="2.75" fill="#b8860b"/>
<circle cx="125.65" cy="327.71" r="2.75" fill="#b8860b"/>
<circle cx="130.52" cy="327.60" r="2.75" fill="#b8860b"/>
<circle cx="135.38" cy="327.50" r="2.75" fill="#b8860b"/>
<circle cx="140.24" cy="327.40" r="2.75" fill="#b8860b"/>
<circle cx="145.11" cy="327.39" r="2.75" fill="#b8860b"/>
<circle cx="149.97" cy="327.38" r="2.75" fill="#b8860b"/>
<circle cx="154.83" cy="327.38" r="2.75" fill="#b8860b"/>
<circle cx="159.69" cy="327.37" r="2.75" fill="#b8860b"/>
<circle cx="164.56" cy="327.36" r="2.75" fill="#b8860b"/>
<circle cx="169.42" cy="327.35" r="2.75" fill="#b8860b"/>
<circle cx="174.28" cy="327.35" r="2.75" fill="#b8860b"/>
<circle cx="179.15" cy="327.34" r="2.75" fill="#b8860b"/>
<circle cx="184.01" cy="327.33" r="2.75" fill="#b8860b"/>
<circle cx="188.87" cy="327.32" r="2.75" fill="#b8860b"/>
<circle cx="193.73" cy="327.32" r="2.75" fill="#b8860b"/>
<circle cx="198.60" cy="327.31" r="2.75" fill="#b8860b"/>
<circle cx="203.46" cy="327.30" r="2.75" fill="#b8860b"/>
<text x="70.3" y="279.0" text-anchor="start" fill="#2e231f" style="font-family:'Liberation Sans',sans-serif;font-size:14.3px;" textLength="67.6" lengthAdjust="spacingAndGlyphs">Group size</text>
<text x="144.6" y="279.0" text-anchor="start" fill="#2e231f" style="font-family:'Liberation Serif',serif;font-size:16.5px;font-style:italic;" textLength="9.3" lengthAdjust="spacingAndGlyphs">g</text>
<text x="153.4" y="282.0" text-anchor="start" fill="#2e231f" style="font-family:'Liberation Serif',serif;font-size:11.5px;font-style:italic;" textLength="8.2" lengthAdjust="spacingAndGlyphs">L</text>
<text x="164.6" y="280.65" text-anchor="start" fill="#2e231f" style="font-family:'Liberation Serif',serif;font-size:16.5px;" textLength="12.2" lengthAdjust="spacingAndGlyphs">=</text>
<text x="178.2" y="279.0" text-anchor="start" fill="#2e231f" style="font-family:'Liberation Serif',serif;font-size:16px;" textLength="8.3" lengthAdjust="spacingAndGlyphs">2</text>
<path d="M140.20,359.74 L146.80,359.74 L143.50,352.81 Z" fill="#006400"/>
<circle cx="143.30" cy="380.30" r="2.8" fill="#b8860b"/>
<text x="152.7" y="361.3" text-anchor="start" fill="#2e231f" style="font-family:'Liberation Serif',serif;font-size:17px;" textLength="4.905594405594405" lengthAdjust="spacingAndGlyphs">(</text>
<text x="158.35209790209788" y="361.3" text-anchor="start" fill="#2e231f" style="font-family:'Liberation Serif',serif;font-size:17px;font-style:italic;" textLength="6.6118881118881125" lengthAdjust="spacingAndGlyphs">b</text>
<text x="165.07062937062935" y="361.3" text-anchor="start" fill="#2e231f" style="font-family:'Liberation Serif',serif;font-size:17px;" textLength="6.6118881118881125" lengthAdjust="spacingAndGlyphs">/</text>
<text x="171.89580419580417" y="361.3" text-anchor="start" fill="#2e231f" style="font-family:'Liberation Serif',serif;font-size:17px;font-style:italic;" textLength="6.185314685314685" lengthAdjust="spacingAndGlyphs">c</text>
<text x="178.2944055944056" y="361.3" text-anchor="start" fill="#2e231f" style="font-family:'Liberation Serif',serif;font-size:17px;" textLength="4.905594405594405" lengthAdjust="spacingAndGlyphs">)</text>
<text x="185.0" y="357.0" text-anchor="start" fill="#2e231f" style="font-family:'Liberation Serif',serif;font-size:10px;">*</text>
<text x="185.1" y="364.90000000000003" text-anchor="start" fill="#2e231f" style="font-family:'Liberation Serif',serif;font-size:9.5px;" textLength="3.4" lengthAdjust="spacingAndGlyphs">I</text>
<text x="152.0" y="384.4" text-anchor="start" fill="#2e231f" style="font-family:'Liberation Serif',serif;font-size:17px;" textLength="4.905594405594405" lengthAdjust="spacingAndGlyphs">(</text>
<text x="157.6520979020979" y="384.4" text-anchor="start" fill="#2e231f" style="font-family:'Liberation Serif',serif;font-size:17px;font-style:italic;" textLength="6.6118881118881125" lengthAdjust="spacingAndGlyphs">b</text>
<text x="164.37062937062936" y="384.4" text-anchor="start" fill="#2e231f" style="font-family:'Liberation Serif',serif;font-size:17px;" textLength="6.6118881118881125" lengthAdjust="spacingAndGlyphs">/</text>
<text x="171.1958041958042" y="384.4" text-anchor="start" fill="#2e231f" style="font-family:'Liberation Serif',serif;font-size:17px;font-style:italic;" textLength="6.185314685314685" lengthAdjust="spacingAndGlyphs">c</text>
<text x="177.5944055944056" y="384.4" text-anchor="start" fill="#2e231f" style="font-family:'Liberation Serif',serif;font-size:17px;" textLength="4.905594405594405" lengthAdjust="spacingAndGlyphs">)</text>
<text x="184.3" y="380.09999999999997" text-anchor="start" fill="#2e231f" style="font-family:'Liberation Serif',serif;font-size:10px;">*</text>
<text x="184.0" y="388.0" text-anchor="start" fill="#2e231f" style="font-family:'Liberation Serif',serif;font-size:9.5px;" textLength="7.5" lengthAdjust="spacingAndGlyphs">H</text>
<g transform="translate(19.9,399) rotate(-90)">
<text x="0" y="0" text-anchor="start" fill="#2e231f" style="font-family:'Liberation Sans',sans-serif;font-size:13.7px;" textLength="68.5" lengthAdjust="spacingAndGlyphs">Theoretical</text>
<text x="71.7" y="0" text-anchor="start" fill="#2e231f" style="font-family:'Liberation Serif',serif;font-size:15px;" textLength="4.6321678321678315" lengthAdjust="spacingAndGlyphs">(</text>
<text x="77.03706293706294" y="0" text-anchor="start" fill="#2e231f" style="font-family:'Liberation Serif',serif;font-size:15px;font-style:italic;" textLength="6.243356643356643" lengthAdjust="spacingAndGlyphs">b</text>
<text x="83.38111888111888" y="0" text-anchor="start" fill="#2e231f" style="font-family:'Liberation Serif',serif;font-size:15px;" textLength="6.243356643356643" lengthAdjust="spacingAndGlyphs">/</text>
<text x="89.82587412587412" y="0" text-anchor="start" fill="#2e231f" style="font-family:'Liberation Serif',serif;font-size:15px;font-style:italic;" textLength="5.840559440559439" lengthAdjust="spacingAndGlyphs">c</text>
<text x="95.86783216783218" y="0" text-anchor="start" fill="#2e231f" style="font-family:'Liberation Serif',serif;font-size:15px;" textLength="4.6321678321678315" lengthAdjust="spacingAndGlyphs">)</text>
<text x="101.3" y="-5.2" text-anchor="start" fill="#2e231f" style="font-family:'Liberation Serif',serif;font-size:11px;">*</text>
</g>
<rect x="238.8" y="288" width="170.0" height="120" fill="none" stroke="#3c3c3c" stroke-width="1.1"/>
<path d="M239.10,408 v-2.3 M239.10,288 v2.3" stroke="#3c3c3c" stroke-width="0.8"/>
<path d="M250.97,408 v-1.5 M250.97,288 v1.5" stroke="#3c3c3c" stroke-width="0.8"/>
<path d="M257.92,408 v-1.5 M257.92,288 v1.5" stroke="#3c3c3c" stroke-width="0.8"/>
<path d="M262.85,408 v-1.5 M262.85,288 v1.5" stroke="#3c3c3c" stroke-width="0.8"/>
<path d="M266.67,408 v-1.5 M266.67,288 v1.5" stroke="#3c3c3c" stroke-width="0.8"/>
<path d="M269.79,408 v-1.5 M269.79,288 v1.5" stroke="#3c3c3c" stroke-width="0.8"/>
<path d="M272.43,408 v-1.5 M272.43,288 v1.5" stroke="#3c3c3c" stroke-width="0.8"/>
<path d="M274.72,408 v-1.5 M274.72,288 v1.5" stroke="#3c3c3c" stroke-width="0.8"/>
<path d="M276.74,408 v-1.5 M276.74,288 v1.5" stroke="#3c3c3c" stroke-width="0.8"/>
<path d="M278.54,408 v-2.3 M278.54,288 v2.3" stroke="#3c3c3c" stroke-width="0.8"/>
<path d="M290.41,408 v-1.5 M290.41,288 v1.5" stroke="#3c3c3c" stroke-width="0.8"/>
<path d="M297.36,408 v-1.5 M297.36,288 v1.5" stroke="#3c3c3c" stroke-width="0.8"/>
<path d="M302.29,408 v-1.5 M302.29,288 v1.5" stroke="#3c3c3c" stroke-width="0.8"/>
<path d="M306.11,408 v-1.5 M306.11,288 v1.5" stroke="#3c3c3c" stroke-width="0.8"/>
<path d="M309.23,408 v-1.5 M309.23,288 v1.5" stroke="#3c3c3c" stroke-width="0.8"/>
<path d="M311.87,408 v-1.5 M311.87,288 v1.5" stroke="#3c3c3c" stroke-width="0.8"/>
<path d="M314.16,408 v-1.5 M314.16,288 v1.5" stroke="#3c3c3c" stroke-width="0.8"/>
<path d="M316.18,408 v-1.5 M316.18,288 v1.5" stroke="#3c3c3c" stroke-width="0.8"/>
<path d="M317.98,408 v-2.3 M317.98,288 v2.3" stroke="#3c3c3c" stroke-width="0.8"/>
<path d="M329.85,408 v-1.5 M329.85,288 v1.5" stroke="#3c3c3c" stroke-width="0.8"/>
<path d="M336.80,408 v-1.5 M336.80,288 v1.5" stroke="#3c3c3c" stroke-width="0.8"/>
<path d="M341.73,408 v-1.5 M341.73,288 v1.5" stroke="#3c3c3c" stroke-width="0.8"/>
<path d="M345.55,408 v-1.5 M345.55,288 v1.5" stroke="#3c3c3c" stroke-width="0.8"/>
<path d="M348.67,408 v-1.5 M348.67,288 v1.5" stroke="#3c3c3c" stroke-width="0.8"/>
<path d="M351.31,408 v-1.5 M351.31,288 v1.5" stroke="#3c3c3c" stroke-width="0.8"/>
<path d="M353.60,408 v-1.5 M353.60,288 v1.5" stroke="#3c3c3c" stroke-width="0.8"/>
<path d="M355.62,408 v-1.5 M355.62,288 v1.5" stroke="#3c3c3c" stroke-width="0.8"/>
<path d="M357.42,408 v-2.3 M357.42,288 v2.3" stroke="#3c3c3c" stroke-width="0.8"/>
<path d="M369.29,408 v-1.5 M369.29,288 v1.5" stroke="#3c3c3c" stroke-width="0.8"/>
<path d="M376.24,408 v-1.5 M376.24,288 v1.5" stroke="#3c3c3c" stroke-width="0.8"/>
<path d="M381.17,408 v-1.5 M381.17,288 v1.5" stroke="#3c3c3c" stroke-width="0.8"/>
<path d="M384.99,408 v-1.5 M384.99,288 v1.5" stroke="#3c3c3c" stroke-width="0.8"/>
<path d="M388.11,408 v-1.5 M388.11,288 v1.5" stroke="#3c3c3c" stroke-width="0.8"/>
<path d="M390.75,408 v-1.5 M390.75,288 v1.5" stroke="#3c3c3c" stroke-width="0.8"/>
<path d="M393.04,408 v-1.5 M393.04,288 v1.5" stroke="#3c3c3c" stroke-width="0.8"/>
<path d="M395.06,408 v-1.5 M395.06,288 v1.5" stroke="#3c3c3c" stroke-width="0.8"/>
<path d="M396.86,408 v-2.3 M396.86,288 v2.3" stroke="#3c3c3c" stroke-width="0.8"/>
<path d="M408.73,408 v-1.5 M408.73,288 v1.5" stroke="#3c3c3c" stroke-width="0.8"/>
<path d="M238.8,305.1 h2.3 M408.8,305.1 h-2.3" stroke="#3c3c3c" stroke-width="0.8"/>
<text x="236.1" y="306.9" text-anchor="end" fill="#2e231f" style="font-family:'Liberation Sans',sans-serif;font-size:15px;">10</text>
<path d="M238.8,339.4 h2.3 M408.8,339.4 h-2.3" stroke="#3c3c3c" stroke-width="0.8"/>
<text x="235.0" y="342.29999999999995" text-anchor="end" fill="#2e231f" style="font-family:'Liberation Sans',sans-serif;font-size:15px;">8</text>
<path d="M238.8,373.7 h2.3 M408.8,373.7 h-2.3" stroke="#3c3c3c" stroke-width="0.8"/>
<text x="235.0" y="376.59999999999997" text-anchor="end" fill="#2e231f" style="font-family:'Liberation Sans',sans-serif;font-size:15px;">6</text>
<path d="M238.8,408 h2.3 M408.8,408 h-2.3" stroke="#3c3c3c" stroke-width="0.8"/>
<text x="235.0" y="410.9" text-anchor="end" fill="#2e231f" style="font-family:'Liberation Sans',sans-serif;font-size:15px;">4</text>
<text x="239.60000000000002" y="428.9" text-anchor="middle" fill="#2e231f" style="font-family:'Liberation Sans',sans-serif;font-size:14.5px;">10<tspan dy="-6.5" style="font-size:11px">0</tspan></text>
<text x="318.48" y="428.9" text-anchor="middle" fill="#2e231f" style="font-family:'Liberation Sans',sans-serif;font-size:14.5px;">10<tspan dy="-6.5" style="font-size:11px">2</tspan></text>
<text x="397.36" y="428.9" text-anchor="middle" fill="#2e231f" style="font-family:'Liberation Sans',sans-serif;font-size:14.5px;">10<tspan dy="-6.5" style="font-size:11px">4</tspan></text>
<path d="M279.85,373 V408" stroke="#3a2f38" stroke-width="1.45" stroke-dasharray="6.5,2.5"/>
<path d="M247.72,299.05 L254.22,299.05 L250.97,292.23 Z" fill="#006400"/>
<path d="M254.67,340.48 L261.17,340.48 L257.92,333.66 Z" fill="#006400"/>
<path d="M259.60,354.10 L266.10,354.10 L262.85,347.28 Z" fill="#006400"/>
<path d="M266.54,365.48 L273.04,365.48 L269.79,358.65 Z" fill="#006400"/>
<path d="M271.47,370.28 L277.97,370.28 L274.72,363.45 Z" fill="#006400"/>
<path d="M276.90,374.00 L283.40,374.00 L280.15,367.17 Z" fill="#006400"/>
<path d="M281.76,376.89 L288.26,376.89 L285.01,370.07 Z" fill="#006400"/>
<path d="M286.63,378.86 L293.13,378.86 L289.88,372.03 Z" fill="#006400"/>
<path d="M291.49,380.08 L297.99,380.08 L294.74,373.26 Z" fill="#006400"/>
<path d="M296.35,381.14 L302.85,381.14 L299.60,374.31 Z" fill="#006400"/>
<path d="M301.21,381.94 L307.71,381.94 L304.46,375.11 Z" fill="#006400"/>
<path d="M306.08,382.60 L312.58,382.60 L309.33,375.78 Z" fill="#006400"/>
<path d="M310.94,382.91 L317.44,382.91 L314.19,376.09 Z" fill="#006400"/>
<path d="M315.80,383.30 L322.30,383.30 L319.05,376.48 Z" fill="#006400"/>
<path d="M320.67,383.60 L327.17,383.60 L323.92,376.78 Z" fill="#006400"/>
<path d="M325.53,383.79 L332.03,383.79 L328.78,376.97 Z" fill="#006400"/>
<path d="M330.39,383.89 L336.89,383.89 L333.64,377.07 Z" fill="#006400"/>
<path d="M335.26,383.96 L341.76,383.96 L338.51,377.14 Z" fill="#006400"/>
<path d="M340.12,384.04 L346.62,384.04 L343.37,377.21 Z" fill="#006400"/>
<path d="M344.98,384.11 L351.48,384.11 L348.23,377.29 Z" fill="#006400"/>
<path d="M349.84,384.18 L356.34,384.18 L353.09,377.36 Z" fill="#006400"/>
<path d="M354.71,384.26 L361.21,384.26 L357.96,377.43 Z" fill="#006400"/>
<path d="M359.57,384.30 L366.07,384.30 L362.82,377.47 Z" fill="#006400"/>
<path d="M364.43,384.31 L370.93,384.31 L367.68,377.48 Z" fill="#006400"/>
<path d="M369.30,384.32 L375.80,384.32 L372.55,377.50 Z" fill="#006400"/>
<path d="M374.16,384.33 L380.66,384.33 L377.41,377.51 Z" fill="#006400"/>
<path d="M379.02,384.35 L385.52,384.35 L382.27,377.52 Z" fill="#006400"/>
<path d="M383.88,384.36 L390.38,384.36 L387.13,377.54 Z" fill="#006400"/>
<path d="M388.75,384.37 L395.25,384.37 L392.00,377.55 Z" fill="#006400"/>
<path d="M393.61,384.39 L400.11,384.39 L396.86,377.56 Z" fill="#006400"/>
<circle cx="250.97" cy="393.79" r="2.75" fill="#b8860b"/>
<circle cx="257.92" cy="390.78" r="2.75" fill="#b8860b"/>
<circle cx="262.85" cy="387.28" r="2.75" fill="#b8860b"/>
<circle cx="269.79" cy="381.18" r="2.75" fill="#b8860b"/>
<circle cx="274.72" cy="377.41" r="2.75" fill="#b8860b"/>
<circle cx="280.15" cy="373.26" r="2.75" fill="#b8860b"/>
<circle cx="285.01" cy="369.89" r="2.75" fill="#b8860b"/>
<circle cx="289.88" cy="367.46" r="2.75" fill="#b8860b"/>
<circle cx="294.74" cy="365.49" r="2.75" fill="#b8860b"/>
<circle cx="299.60" cy="363.95" r="2.75" fill="#b8860b"/>
<circle cx="304.46" cy="362.77" r="2.75" fill="#b8860b"/>
<circle cx="309.33" cy="361.87" r="2.75" fill="#b8860b"/>
<circle cx="314.19" cy="361.26" r="2.75" fill="#b8860b"/>
<circle cx="319.05" cy="360.58" r="2.75" fill="#b8860b"/>
<circle cx="323.92" cy="360.27" r="2.75" fill="#b8860b"/>
<circle cx="328.78" cy="359.79" r="2.75" fill="#b8860b"/>
<circle cx="333.64" cy="359.50" r="2.75" fill="#b8860b"/>
<circle cx="338.51" cy="359.41" r="2.75" fill="#b8860b"/>
<circle cx="343.37" cy="359.32" r="2.75" fill="#b8860b"/>
<circle cx="348.23" cy="359.23" r="2.75" fill="#b8860b"/>
<circle cx="353.09" cy="359.19" r="2.75" fill="#b8860b"/>
<circle cx="357.96" cy="359.17" r="2.75" fill="#b8860b"/>
<circle cx="362.82" cy="359.15" r="2.75" fill="#b8860b"/>
<circle cx="367.68" cy="359.12" r="2.75" fill="#b8860b"/>
<circle cx="372.55" cy="359.10" r="2.75" fill="#b8860b"/>
<circle cx="377.41" cy="359.08" r="2.75" fill="#b8860b"/>
<circle cx="382.27" cy="359.06" r="2.75" fill="#b8860b"/>
<circle cx="387.13" cy="359.04" r="2.75" fill="#b8860b"/>
<circle cx="392.00" cy="359.02" r="2.75" fill="#b8860b"/>
<circle cx="396.86" cy="359.00" r="2.75" fill="#b8860b"/>
<text x="293.5" y="279.0" text-anchor="start" fill="#2e231f" style="font-family:'Liberation Serif',serif;font-size:16.5px;font-style:italic;" textLength="9.3" lengthAdjust="spacingAndGlyphs">g</text>
<text x="302.8" y="282.2" text-anchor="start" fill="#2e231f" style="font-family:'Liberation Serif',serif;font-size:11.5px;font-style:italic;" textLength="8" lengthAdjust="spacingAndGlyphs">L</text>
<text x="312.8" y="280.65" text-anchor="start" fill="#2e231f" style="font-family:'Liberation Serif',serif;font-size:16.5px;" textLength="12.2" lengthAdjust="spacingAndGlyphs">=</text>
<text x="328.2" y="279.0" text-anchor="start" fill="#2e231f" style="font-family:'Liberation Serif',serif;font-size:17px;" textLength="16.4" lengthAdjust="spacingAndGlyphs">10</text>
<text x="249.6" y="447.3" text-anchor="start" fill="#2e231f" style="font-family:'Liberation Sans',sans-serif;font-size:14.3px;" textLength="118" lengthAdjust="spacingAndGlyphs">Number of groups,</text>
<text x="370.9" y="447.3" text-anchor="start" fill="#2e231f" style="font-family:'Liberation Serif',serif;font-size:16.5px;font-style:italic;" textLength="15" lengthAdjust="spacingAndGlyphs">m</text>
<text x="386.9" y="450.4" text-anchor="start" fill="#2e231f" style="font-family:'Liberation Serif',serif;font-size:11.5px;font-style:italic;" textLength="8.8" lengthAdjust="spacingAndGlyphs">L</text>
<rect x="432.5" y="288" width="169.29999999999995" height="120" fill="none" stroke="#3c3c3c" stroke-width="1.1"/>
<path d="M432.50,408 v-2.3 M432.50,288 v2.3" stroke="#3c3c3c" stroke-width="0.8"/>
<path d="M444.37,408 v-1.5 M444.37,288 v1.5" stroke="#3c3c3c" stroke-width="0.8"/>
<path d="M451.32,408 v-1.5 M451.32,288 v1.5" stroke="#3c3c3c" stroke-width="0.8"/>
<path d="M456.25,408 v-1.5 M456.25,288 v1.5" stroke="#3c3c3c" stroke-width="0.8"/>
<path d="M460.07,408 v-1.5 M460.07,288 v1.5" stroke="#3c3c3c" stroke-width="0.8"/>
<path d="M463.19,408 v-1.5 M463.19,288 v1.5" stroke="#3c3c3c" stroke-width="0.8"/>
<path d="M465.83,408 v-1.5 M465.83,288 v1.5" stroke="#3c3c3c" stroke-width="0.8"/>
<path d="M468.12,408 v-1.5 M468.12,288 v1.5" stroke="#3c3c3c" stroke-width="0.8"/>
<path d="M470.14,408 v-1.5 M470.14,288 v1.5" stroke="#3c3c3c" stroke-width="0.8"/>
<path d="M471.94,408 v-2.3 M471.94,288 v2.3" stroke="#3c3c3c" stroke-width="0.8"/>
<path d="M483.81,408 v-1.5 M483.81,288 v1.5" stroke="#3c3c3c" stroke-width="0.8"/>
<path d="M490.76,408 v-1.5 M490.76,288 v1.5" stroke="#3c3c3c" stroke-width="0.8"/>
<path d="M495.69,408 v-1.5 M495.69,288 v1.5" stroke="#3c3c3c" stroke-width="0.8"/>
<path d="M499.51,408 v-1.5 M499.51,288 v1.5" stroke="#3c3c3c" stroke-width="0.8"/>
<path d="M502.63,408 v-1.5 M502.63,288 v1.5" stroke="#3c3c3c" stroke-width="0.8"/>
<path d="M505.27,408 v-1.5 M505.27,288 v1.5" stroke="#3c3c3c" stroke-width="0.8"/>
<path d="M507.56,408 v-1.5 M507.56,288 v1.5" stroke="#3c3c3c" stroke-width="0.8"/>
<path d="M509.58,408 v-1.5 M509.58,288 v1.5" stroke="#3c3c3c" stroke-width="0.8"/>
<path d="M511.38,408 v-2.3 M511.38,288 v2.3" stroke="#3c3c3c" stroke-width="0.8"/>
<path d="M523.25,408 v-1.5 M523.25,288 v1.5" stroke="#3c3c3c" stroke-width="0.8"/>
<path d="M530.20,408 v-1.5 M530.20,288 v1.5" stroke="#3c3c3c" stroke-width="0.8"/>
<path d="M535.13,408 v-1.5 M535.13,288 v1.5" stroke="#3c3c3c" stroke-width="0.8"/>
<path d="M538.95,408 v-1.5 M538.95,288 v1.5" stroke="#3c3c3c" stroke-width="0.8"/>
<path d="M542.07,408 v-1.5 M542.07,288 v1.5" stroke="#3c3c3c" stroke-width="0.8"/>
<path d="M544.71,408 v-1.5 M544.71,288 v1.5" stroke="#3c3c3c" stroke-width="0.8"/>
<path d="M547.00,408 v-1.5 M547.00,288 v1.5" stroke="#3c3c3c" stroke-width="0.8"/>
<path d="M549.02,408 v-1.5 M549.02,288 v1.5" stroke="#3c3c3c" stroke-width="0.8"/>
<path d="M550.82,408 v-2.3 M550.82,288 v2.3" stroke="#3c3c3c" stroke-width="0.8"/>
<path d="M562.69,408 v-1.5 M562.69,288 v1.5" stroke="#3c3c3c" stroke-width="0.8"/>
<path d="M569.64,408 v-1.5 M569.64,288 v1.5" stroke="#3c3c3c" stroke-width="0.8"/>
<path d="M574.57,408 v-1.5 M574.57,288 v1.5" stroke="#3c3c3c" stroke-width="0.8"/>
<path d="M578.39,408 v-1.5 M578.39,288 v1.5" stroke="#3c3c3c" stroke-width="0.8"/>
<path d="M581.51,408 v-1.5 M581.51,288 v1.5" stroke="#3c3c3c" stroke-width="0.8"/>
<path d="M584.15,408 v-1.5 M584.15,288 v1.5" stroke="#3c3c3c" stroke-width="0.8"/>
<path d="M586.44,408 v-1.5 M586.44,288 v1.5" stroke="#3c3c3c" stroke-width="0.8"/>
<path d="M588.46,408 v-1.5 M588.46,288 v1.5" stroke="#3c3c3c" stroke-width="0.8"/>
<path d="M590.26,408 v-2.3 M590.26,288 v2.3" stroke="#3c3c3c" stroke-width="0.8"/>
<path d="M432.5,303 h2.3 M601.8,303 h-2.3" stroke="#3c3c3c" stroke-width="0.8"/>
<text x="427.3" y="307.4" text-anchor="end" fill="#2e231f" style="font-family:'Liberation Sans',sans-serif;font-size:15px;">10</text>
<path d="M432.5,333 h2.3 M601.8,333 h-2.3" stroke="#3c3c3c" stroke-width="0.8"/>
<text x="427.3" y="337.4" text-anchor="end" fill="#2e231f" style="font-family:'Liberation Sans',sans-serif;font-size:15px;">8</text>
<path d="M432.5,363 h2.3 M601.8,363 h-2.3" stroke="#3c3c3c" stroke-width="0.8"/>
<text x="427.3" y="367.4" text-anchor="end" fill="#2e231f" style="font-family:'Liberation Sans',sans-serif;font-size:15px;">6</text>
<path d="M432.5,393 h2.3 M601.8,393 h-2.3" stroke="#3c3c3c" stroke-width="0.8"/>
<text x="427.3" y="397.4" text-anchor="end" fill="#2e231f" style="font-family:'Liberation Sans',sans-serif;font-size:15px;">4</text>
<text x="433.3" y="428.9" text-anchor="middle" fill="#2e231f" style="font-family:'Liberation Sans',sans-serif;font-size:14.5px;">10<tspan dy="-6.5" style="font-size:11px">0</tspan></text>
<text x="512.18" y="428.9" text-anchor="middle" fill="#2e231f" style="font-family:'Liberation Sans',sans-serif;font-size:14.5px;">10<tspan dy="-6.5" style="font-size:11px">2</tspan></text>
<text x="591.06" y="428.9" text-anchor="middle" fill="#2e231f" style="font-family:'Liberation Sans',sans-serif;font-size:14.5px;">10<tspan dy="-6.5" style="font-size:11px">4</tspan></text>
<path d="M550.2,381 V408" stroke="#3a2f38" stroke-width="1.45" stroke-dasharray="6.5,2.5"/>
<path d="M441.02,305.29 L447.52,305.29 L444.27,298.47 Z" fill="#006400"/>
<path d="M447.97,343.08 L454.47,343.08 L451.22,336.26 Z" fill="#006400"/>
<path d="M452.90,355.16 L459.40,355.16 L456.15,348.33 Z" fill="#006400"/>
<path d="M459.84,365.25 L466.34,365.25 L463.09,358.43 Z" fill="#006400"/>
<path d="M464.77,369.06 L471.27,369.06 L468.02,362.24 Z" fill="#006400"/>
<path d="M470.20,372.46 L476.70,372.46 L473.45,365.63 Z" fill="#006400"/>
<path d="M475.06,374.49 L481.56,374.49 L478.31,367.67 Z" fill="#006400"/>
<path d="M479.93,375.72 L486.43,375.72 L483.18,368.90 Z" fill="#006400"/>
<path d="M484.79,376.64 L491.29,376.64 L488.04,369.82 Z" fill="#006400"/>
<path d="M489.65,377.41 L496.15,377.41 L492.90,370.59 Z" fill="#006400"/>
<path d="M494.51,377.99 L501.01,377.99 L497.76,371.17 Z" fill="#006400"/>
<path d="M499.38,378.39 L505.88,378.39 L502.63,371.57 Z" fill="#006400"/>
<path d="M504.24,378.59 L510.74,378.59 L507.49,371.77 Z" fill="#006400"/>
<path d="M509.10,378.89 L515.60,378.89 L512.35,372.07 Z" fill="#006400"/>
<path d="M513.97,379.02 L520.47,379.02 L517.22,372.20 Z" fill="#006400"/>
<path d="M518.83,379.15 L525.33,379.15 L522.08,372.33 Z" fill="#006400"/>
<path d="M523.69,379.29 L530.19,379.29 L526.94,372.46 Z" fill="#006400"/>
<path d="M528.56,379.36 L535.06,379.36 L531.81,372.54 Z" fill="#006400"/>
<path d="M533.42,379.43 L539.92,379.43 L536.67,372.61 Z" fill="#006400"/>
<path d="M538.28,379.51 L544.78,379.51 L541.53,372.68 Z" fill="#006400"/>
<path d="M543.14,379.58 L549.64,379.58 L546.39,372.76 Z" fill="#006400"/>
<path d="M548.01,379.66 L554.51,379.66 L551.26,372.83 Z" fill="#006400"/>
<path d="M552.87,379.73 L559.37,379.73 L556.12,372.90 Z" fill="#006400"/>
<path d="M557.73,379.79 L564.23,379.79 L560.98,372.97 Z" fill="#006400"/>
<path d="M562.60,379.81 L569.10,379.81 L565.85,372.98 Z" fill="#006400"/>
<path d="M567.46,379.82 L573.96,379.82 L570.71,373.00 Z" fill="#006400"/>
<path d="M572.32,379.84 L578.82,379.84 L575.57,373.01 Z" fill="#006400"/>
<path d="M577.18,379.86 L583.68,379.86 L580.43,373.03 Z" fill="#006400"/>
<path d="M582.05,379.87 L588.55,379.87 L585.30,373.05 Z" fill="#006400"/>
<path d="M586.91,379.89 L593.41,379.89 L590.16,373.06 Z" fill="#006400"/>
<circle cx="444.27" cy="401.26" r="2.75" fill="#b8860b"/>
<circle cx="451.22" cy="402.21" r="2.75" fill="#b8860b"/>
<circle cx="456.15" cy="400.62" r="2.75" fill="#b8860b"/>
<circle cx="463.09" cy="397.06" r="2.75" fill="#b8860b"/>
<circle cx="468.02" cy="394.26" r="2.75" fill="#b8860b"/>
<circle cx="473.45" cy="391.16" r="2.75" fill="#b8860b"/>
<circle cx="478.31" cy="388.59" r="2.75" fill="#b8860b"/>
<circle cx="483.18" cy="386.55" r="2.75" fill="#b8860b"/>
<circle cx="488.04" cy="384.70" r="2.75" fill="#b8860b"/>
<circle cx="492.90" cy="383.25" r="2.75" fill="#b8860b"/>
<circle cx="497.76" cy="382.09" r="2.75" fill="#b8860b"/>
<circle cx="502.63" cy="381.08" r="2.75" fill="#b8860b"/>
<circle cx="507.49" cy="380.49" r="2.75" fill="#b8860b"/>
<circle cx="512.35" cy="379.79" r="2.75" fill="#b8860b"/>
<circle cx="517.22" cy="379.40" r="2.75" fill="#b8860b"/>
<circle cx="522.08" cy="379.11" r="2.75" fill="#b8860b"/>
<circle cx="526.94" cy="378.63" r="2.75" fill="#b8860b"/>
<circle cx="531.81" cy="378.44" r="2.75" fill="#b8860b"/>
<circle cx="536.67" cy="378.28" r="2.75" fill="#b8860b"/>
<circle cx="541.53" cy="378.12" r="2.75" fill="#b8860b"/>
<circle cx="546.39" cy="377.99" r="2.75" fill="#b8860b"/>
<circle cx="551.26" cy="377.96" r="2.75" fill="#b8860b"/>
<circle cx="556.12" cy="377.93" r="2.75" fill="#b8860b"/>
<circle cx="560.98" cy="377.89" r="2.75" fill="#b8860b"/>
<circle cx="565.85" cy="377.86" r="2.75" fill="#b8860b"/>
<circle cx="570.71" cy="377.83" r="2.75" fill="#b8860b"/>
<circle cx="575.57" cy="377.80" r="2.75" fill="#b8860b"/>
<circle cx="580.43" cy="377.76" r="2.75" fill="#b8860b"/>
<circle cx="585.30" cy="377.73" r="2.75" fill="#b8860b"/>
<circle cx="590.16" cy="377.70" r="2.75" fill="#b8860b"/>
<text x="489.5" y="279.8" text-anchor="start" fill="#2e231f" style="font-family:'Liberation Serif',serif;font-size:16.5px;font-style:italic;" textLength="8.3" lengthAdjust="spacingAndGlyphs">g</text>
<text x="498.0" y="283.2" text-anchor="start" fill="#2e231f" style="font-family:'Liberation Serif',serif;font-size:11.5px;font-style:italic;" textLength="8.2" lengthAdjust="spacingAndGlyphs">L</text>
<text x="510.8" y="282.05" text-anchor="start" fill="#2e231f" style="font-family:'Liberation Serif',serif;font-size:16.5px;" textLength="12.2" lengthAdjust="spacingAndGlyphs">=</text>
<text x="526.3" y="280.4" text-anchor="start" fill="#2e231f" style="font-family:'Liberation Serif',serif;font-size:17px;" textLength="15" lengthAdjust="spacingAndGlyphs">10</text>
<text x="541.9" y="273.3" text-anchor="start" fill="#2e231f" style="font-family:'Liberation Serif',serif;font-size:12.5px;" textLength="7.6" lengthAdjust="spacingAndGlyphs">3</text>
<text x="414.6" y="284" fill="#2e231f" style="font-family:'Liberation Sans',sans-serif;font-size:12px">×10<tspan dy="-4.6" style="font-size:10px">2</tspan></text>
<rect x="646.5" y="288" width="169.10000000000002" height="120" fill="#fff0f3"/>
<polygon points="662.7,408 672.2,378.2 675.3,376.6 678.7,375.3 685.1,375.3 696.8,368.6 711,360.3 713.6,359.2 729,349.7 744.6,338.7 815.6,288.4 815.6,408" fill="#ccffcc"/>
<path d="M646.5,408 L711,362.3" stroke="#c8c8c8" stroke-width="0.8" fill="none"/>
<polyline points="662.7,408 672.2,378.2 675.3,376.6 678.7,375.3 685.1,375.3 696.8,368.6 711,360.3 713.6,359.2 729,349.7 744.6,338.7 815.6,288.4" fill="none" stroke="#0a0ebc" stroke-width="1.85" stroke-linejoin="round"/>
<rect x="646.5" y="288" width="169.10000000000002" height="120" fill="none" stroke="#3c3c3c" stroke-width="1.1"/>
<path d="M646.5,408.00 h2.3 M815.6,408.00 h-2.3" stroke="#3c3c3c" stroke-width="0.8"/>
<path d="M646.50,408 v-2.3 M646.50,288 v2.3" stroke="#3c3c3c" stroke-width="0.8"/>
<path d="M646.5,396.27 h1.5 M815.6,396.27 h-1.5" stroke="#3c3c3c" stroke-width="0.8"/>
<path d="M646.5,389.41 h1.5 M815.6,389.41 h-1.5" stroke="#3c3c3c" stroke-width="0.8"/>
<path d="M646.5,384.54 h1.5 M815.6,384.54 h-1.5" stroke="#3c3c3c" stroke-width="0.8"/>
<path d="M646.5,380.76 h1.5 M815.6,380.76 h-1.5" stroke="#3c3c3c" stroke-width="0.8"/>
<path d="M646.5,377.67 h1.5 M815.6,377.67 h-1.5" stroke="#3c3c3c" stroke-width="0.8"/>
<path d="M646.5,375.07 h1.5 M815.6,375.07 h-1.5" stroke="#3c3c3c" stroke-width="0.8"/>
<path d="M646.5,372.81 h1.5 M815.6,372.81 h-1.5" stroke="#3c3c3c" stroke-width="0.8"/>
<path d="M646.5,370.81 h1.5 M815.6,370.81 h-1.5" stroke="#3c3c3c" stroke-width="0.8"/>
<path d="M646.5,369.03 h2.3 M815.6,369.03 h-2.3" stroke="#3c3c3c" stroke-width="0.8"/>
<path d="M701.42,408 v-2.3 M701.42,288 v2.3" stroke="#3c3c3c" stroke-width="0.8"/>
<path d="M646.5,357.30 h1.5 M815.6,357.30 h-1.5" stroke="#3c3c3c" stroke-width="0.8"/>
<path d="M646.5,350.43 h1.5 M815.6,350.43 h-1.5" stroke="#3c3c3c" stroke-width="0.8"/>
<path d="M646.5,345.57 h1.5 M815.6,345.57 h-1.5" stroke="#3c3c3c" stroke-width="0.8"/>
<path d="M646.5,341.79 h1.5 M815.6,341.79 h-1.5" stroke="#3c3c3c" stroke-width="0.8"/>
<path d="M646.5,338.70 h1.5 M815.6,338.70 h-1.5" stroke="#3c3c3c" stroke-width="0.8"/>
<path d="M646.5,336.09 h1.5 M815.6,336.09 h-1.5" stroke="#3c3c3c" stroke-width="0.8"/>
<path d="M646.5,333.83 h1.5 M815.6,333.83 h-1.5" stroke="#3c3c3c" stroke-width="0.8"/>
<path d="M646.5,331.84 h1.5 M815.6,331.84 h-1.5" stroke="#3c3c3c" stroke-width="0.8"/>
<path d="M646.5,330.06 h2.3 M815.6,330.06 h-2.3" stroke="#3c3c3c" stroke-width="0.8"/>
<path d="M756.33,408 v-2.3 M756.33,288 v2.3" stroke="#3c3c3c" stroke-width="0.8"/>
<path d="M646.5,318.33 h1.5 M815.6,318.33 h-1.5" stroke="#3c3c3c" stroke-width="0.8"/>
<path d="M646.5,311.46 h1.5 M815.6,311.46 h-1.5" stroke="#3c3c3c" stroke-width="0.8"/>
<path d="M646.5,306.59 h1.5 M815.6,306.59 h-1.5" stroke="#3c3c3c" stroke-width="0.8"/>
<path d="M646.5,302.82 h1.5 M815.6,302.82 h-1.5" stroke="#3c3c3c" stroke-width="0.8"/>
<path d="M646.5,299.73 h1.5 M815.6,299.73 h-1.5" stroke="#3c3c3c" stroke-width="0.8"/>
<path d="M646.5,297.12 h1.5 M815.6,297.12 h-1.5" stroke="#3c3c3c" stroke-width="0.8"/>
<path d="M646.5,294.86 h1.5 M815.6,294.86 h-1.5" stroke="#3c3c3c" stroke-width="0.8"/>
<path d="M646.5,292.87 h1.5 M815.6,292.87 h-1.5" stroke="#3c3c3c" stroke-width="0.8"/>
<path d="M646.5,291.09 h2.3 M815.6,291.09 h-2.3" stroke="#3c3c3c" stroke-width="0.8"/>
<path d="M811.25,408 v-2.3 M811.25,288 v2.3" stroke="#3c3c3c" stroke-width="0.8"/>
<text x="647.7" y="429" text-anchor="middle" fill="#2e231f" style="font-family:'Liberation Sans',sans-serif;font-size:14.5px;">10<tspan dy="-6.5" style="font-size:11px">0</tspan></text>
<text x="701.5171959971676" y="429" text-anchor="middle" fill="#2e231f" style="font-family:'Liberation Sans',sans-serif;font-size:14.5px;">10<tspan dy="-6.5" style="font-size:11px">1</tspan></text>
<text x="756.634391994335" y="429" text-anchor="middle" fill="#2e231f" style="font-family:'Liberation Sans',sans-serif;font-size:14.5px;">10<tspan dy="-6.5" style="font-size:11px">2</tspan></text>
<text x="811.2515879915027" y="429" text-anchor="middle" fill="#2e231f" style="font-family:'Liberation Sans',sans-serif;font-size:14.5px;">10<tspan dy="-6.5" style="font-size:11px">3</tspan></text>
<text x="643.3" y="414.0" text-anchor="end" fill="#2e231f" style="font-family:'Liberation Sans',sans-serif;font-size:14.5px;">10<tspan dy="-6.5" style="font-size:11px">0</tspan></text>
<text x="643.3" y="376.0" text-anchor="end" fill="#2e231f" style="font-family:'Liberation Sans',sans-serif;font-size:14.5px;">10<tspan dy="-6.5" style="font-size:11px">1</tspan></text>
<text x="643.3" y="335.4" text-anchor="end" fill="#2e231f" style="font-family:'Liberation Sans',sans-serif;font-size:14.5px;">10<tspan dy="-6.5" style="font-size:11px">2</tspan></text>
<text x="643.3" y="300.7" text-anchor="end" fill="#2e231f" style="font-family:'Liberation Sans',sans-serif;font-size:14.5px;">10<tspan dy="-6.5" style="font-size:11px">3</tspan></text>
<path d="M656.2,303.2 H672.2" stroke="#0a0ebc" stroke-width="1.9"/>
<text x="673.7" y="307.8" text-anchor="start" fill="#2e231f" style="font-family:'Liberation Serif',serif;font-size:16px;" textLength="11.6" lengthAdjust="spacingAndGlyphs">Δ</text>
<text x="689.1" y="309.4" text-anchor="start" fill="#2e231f" style="font-family:'Liberation Serif',serif;font-size:16px;" textLength="10.6" lengthAdjust="spacingAndGlyphs">=</text>
<text x="703.8000000000001" y="307.8" text-anchor="start" fill="#2e231f" style="font-family:'Liberation Serif',serif;font-size:16px;" textLength="7.4" lengthAdjust="spacingAndGlyphs">0</text>
<text x="678.4" y="340.9" text-anchor="start" fill="#2e231f" style="font-family:'Liberation Serif',serif;font-size:16px;" textLength="11.6" lengthAdjust="spacingAndGlyphs">Δ</text>
<text x="695.3" y="342.18" text-anchor="start" fill="#2e231f" style="font-family:'Liberation Serif',serif;font-size:16px;" textLength="10.6" lengthAdjust="spacingAndGlyphs">&lt;</text>
<text x="710.4" y="340.9" text-anchor="start" fill="#2e231f" style="font-family:'Liberation Serif',serif;font-size:16px;" textLength="7.4" lengthAdjust="spacingAndGlyphs">0</text>
<text x="733.2" y="375.4" text-anchor="start" fill="#2e231f" style="font-family:'Liberation Serif',serif;font-size:16px;" textLength="11.6" lengthAdjust="spacingAndGlyphs">Δ</text>
<text x="748.8000000000001" y="376.68" text-anchor="start" fill="#2e231f" style="font-family:'Liberation Serif',serif;font-size:16px;" textLength="10.6" lengthAdjust="spacingAndGlyphs">&gt;</text>
<text x="764.1" y="375.4" text-anchor="start" fill="#2e231f" style="font-family:'Liberation Serif',serif;font-size:16px;" textLength="7.4" lengthAdjust="spacingAndGlyphs">0</text>
<text x="664.9" y="277.0" text-anchor="start" fill="#2e231f" style="font-family:'Liberation Serif',serif;font-size:16px;" textLength="11.8" lengthAdjust="spacingAndGlyphs">Δ</text>
<text x="681.9" y="278.6" text-anchor="start" fill="#2e231f" style="font-family:'Liberation Serif',serif;font-size:16px;" textLength="10.9" lengthAdjust="spacingAndGlyphs">=</text>
<text x="698.3" y="277.0" text-anchor="start" fill="#2e231f" style="font-family:'Liberation Serif',serif;font-size:16.5px;" textLength="4.986013986013986" lengthAdjust="spacingAndGlyphs">(</text>
<text x="704.0447552447552" y="277.0" text-anchor="start" fill="#2e231f" style="font-family:'Liberation Serif',serif;font-size:16.5px;font-style:italic;" textLength="6.720279720279721" lengthAdjust="spacingAndGlyphs">b</text>
<text x="710.8734265734265" y="277.0" text-anchor="start" fill="#2e231f" style="font-family:'Liberation Serif',serif;font-size:16.5px;" textLength="6.720279720279721" lengthAdjust="spacingAndGlyphs">/</text>
<text x="717.8104895104894" y="277.0" text-anchor="start" fill="#2e231f" style="font-family:'Liberation Serif',serif;font-size:16.5px;font-style:italic;" textLength="6.286713286713287" lengthAdjust="spacingAndGlyphs">c</text>
<text x="724.313986013986" y="277.0" text-anchor="start" fill="#2e231f" style="font-family:'Liberation Serif',serif;font-size:16.5px;" textLength="4.986013986013986" lengthAdjust="spacingAndGlyphs">)</text>
<text x="730.5" y="272.5" text-anchor="start" fill="#2e231f" style="font-family:'Liberation Serif',serif;font-size:10px;">*</text>
<text x="731.2" y="280.6" text-anchor="start" fill="#2e231f" style="font-family:'Liberation Serif',serif;font-size:9.5px;">I</text>
<text x="742.1" y="278.6" text-anchor="start" fill="#2e231f" style="font-family:'Liberation Serif',serif;font-size:16px;" textLength="9.1" lengthAdjust="spacingAndGlyphs">−</text>
<text x="757.6" y="277.0" text-anchor="start" fill="#2e231f" style="font-family:'Liberation Serif',serif;font-size:16.5px;" textLength="4.841258741258741" lengthAdjust="spacingAndGlyphs">(</text>
<text x="763.177972027972" y="277.0" text-anchor="start" fill="#2e231f" style="font-family:'Liberation Serif',serif;font-size:16.5px;font-style:italic;" textLength="6.525174825174826" lengthAdjust="spacingAndGlyphs">b</text>
<text x="769.8083916083916" y="277.0" text-anchor="start" fill="#2e231f" style="font-family:'Liberation Serif',serif;font-size:16.5px;" textLength="6.525174825174826" lengthAdjust="spacingAndGlyphs">/</text>
<text x="776.544055944056" y="277.0" text-anchor="start" fill="#2e231f" style="font-family:'Liberation Serif',serif;font-size:16.5px;font-style:italic;" textLength="6.104195804195804" lengthAdjust="spacingAndGlyphs">c</text>
<text x="782.8587412587412" y="277.0" text-anchor="start" fill="#2e231f" style="font-family:'Liberation Serif',serif;font-size:16.5px;" textLength="4.841258741258741" lengthAdjust="spacingAndGlyphs">)</text>
<text x="789.5" y="272.5" text-anchor="start" fill="#2e231f" style="font-family:'Liberation Serif',serif;font-size:10px;">*</text>
<text x="789.4" y="280.6" text-anchor="start" fill="#2e231f" style="font-family:'Liberation Serif',serif;font-size:9.5px;" textLength="7.9" lengthAdjust="spacingAndGlyphs">H</text>
<text x="723.2" y="443.3" text-anchor="start" fill="#2e231f" style="font-family:'Liberation Serif',serif;font-size:16.5px;font-style:italic;" textLength="8.6" lengthAdjust="spacingAndGlyphs">g</text>
<text x="732.6" y="446.8" text-anchor="start" fill="#2e231f" style="font-family:'Liberation Serif',serif;font-size:11.5px;font-style:italic;" textLength="7.2" lengthAdjust="spacingAndGlyphs">L</text>
<g transform="translate(617.7,360.3) rotate(-90)">
<text x="0" y="0" text-anchor="start" fill="#2e231f" style="font-family:'Liberation Serif',serif;font-size:17px;font-style:italic;" textLength="13.7" lengthAdjust="spacingAndGlyphs">m</text>
<text x="14.8" y="3.4" text-anchor="start" fill="#2e231f" style="font-family:'Liberation Serif',serif;font-size:12px;font-style:italic;" textLength="8" lengthAdjust="spacingAndGlyphs">L</text>
</g>
</svg>
</body></html>
